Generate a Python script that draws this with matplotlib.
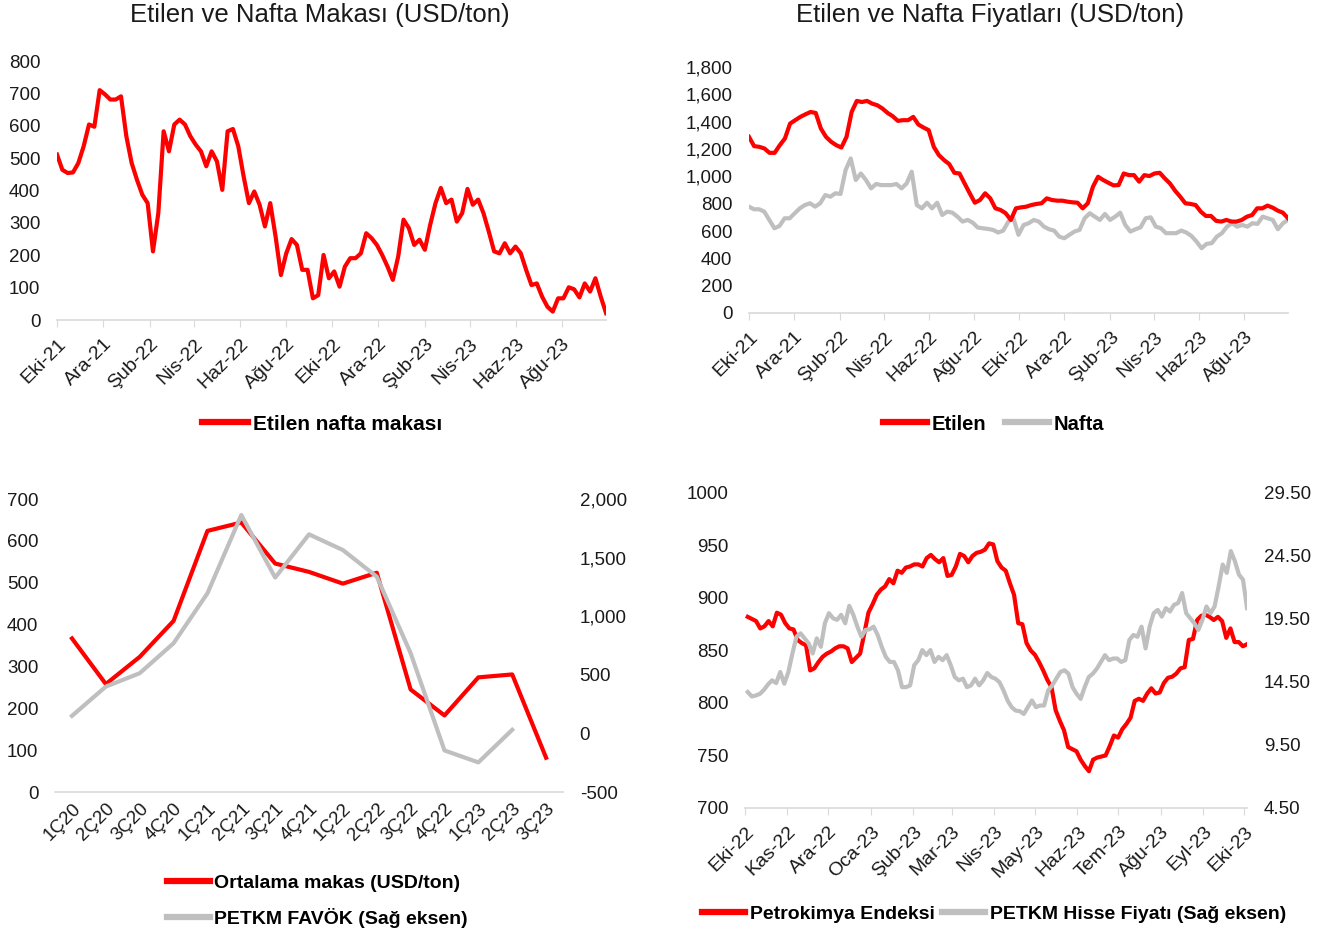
import pandas as pd
import matplotlib
matplotlib.use('Agg')
import matplotlib.pyplot as plt
import matplotlib.dates as mdates
from matplotlib.ticker import FuncFormatter, MultipleLocator, FixedLocator
from matplotlib.lines import Line2D

plt.rcParams['font.family'] = ['Liberation Sans', 'DejaVu Sans']

AYLAR = ['Oca', 'Şub', 'Mar', 'Nis', 'May', 'Haz', 'Tem', 'Ağu', 'Eyl', 'Eki', 'Kas', 'Ara']
KIRMIZI = '#FF0000'
GRI = '#BFBFBF'
EKSEN = '#D9D9D9'

# haftalik etilen-nafta makasi (USD/ton), Eki-21 .. Eyl-23
makas = [511, 464, 454, 456, 485, 537, 604, 597, 710, 697, 681, 681, 691, 568, 485, 433,
         387, 361, 212, 330, 583, 521, 604, 619, 604, 568, 542, 521, 475, 521, 490, 402,
         583, 590, 537, 444, 361, 397, 356, 289, 361, 258, 139, 206, 250, 232, 155, 155,
         67, 77, 201, 129, 150, 103, 165, 191, 191, 206, 268, 253, 232, 201, 165, 124,
         196, 310, 284, 232, 248, 217, 294, 361, 408, 361, 372, 304, 330, 405, 356, 372,
         330, 273, 212, 206, 237, 206, 227, 206, 155, 108, 113, 72, 41, 26, 67, 67,
         101, 95, 70, 113, 88, 129, 72, 21]

# haftalik fiyatlar (USD/ton)
etilen = [1289, 1221, 1216, 1204, 1172, 1172, 1228, 1277, 1386, 1411, 1435, 1454, 1471, 1464,
          1350, 1289, 1253, 1228, 1211, 1289, 1471, 1552, 1544, 1552, 1532, 1520, 1496, 1464,
          1440, 1406, 1411, 1411, 1435, 1379, 1357, 1338, 1216, 1155, 1119, 1090, 1026, 1021,
          948, 876, 807, 827, 876, 839, 766, 754, 730, 681, 766, 773, 778, 790, 798, 803,
          839, 827, 822, 822, 815, 810, 807, 766, 803, 924, 997, 973, 953, 934, 936, 1021,
          1009, 1009, 961, 1009, 1002, 1021, 1026, 985, 948, 895, 851, 803, 798, 790, 742,
          710, 710, 674, 669, 681, 669, 669, 681, 705, 717, 766, 766, 786, 771, 749, 734, 693]
nafta = [778, 759, 759, 742, 681, 620, 637, 693, 693, 730, 766, 790, 803, 778, 803, 863,
         851, 876, 871, 1046, 1131, 973, 1021, 973, 912, 944, 936, 936, 936, 944, 912, 948,
         1034, 790, 766, 807, 766, 807, 717, 742, 734, 705, 669, 681, 661, 625, 620, 615,
         608, 589, 603, 669, 693, 572, 644, 657, 681, 669, 632, 613, 603, 559, 547, 572,
         596, 608, 693, 730, 705, 681, 725, 681, 705, 734, 644, 596, 613, 627, 693, 700,
         632, 620, 584, 584, 584, 603, 589, 564, 523, 474, 506, 511, 559, 584, 632, 657,
         632, 644, 632, 657, 652, 705, 693, 681, 613, 657, 681]

# ceyreklik veriler
ceyrekler = ['1Ç20', '2Ç20', '3Ç20', '4Ç20', '1Ç21', '2Ç21', '3Ç21', '4Ç21',
             '1Ç22', '2Ç22', '3Ç22', '4Ç22', '1Ç23', '2Ç23', '3Ç23']
ortalama_makas = [367, 258, 323, 409, 624, 644, 546, 526, 498, 524, 245, 183, 274, 281, 82]
favok = [150, 400, 514, 770, 1196, 1864, 1330, 1699, 1565, 1338, 685, -145, -247, 31]

# gunluk endeks ve hisse, Eki-22 .. Eki-23
petrokimya = [882, 880, 878, 871, 873, 878, 873, 886, 884, 876, 871, 870, 860, 857, 855, 831,
              833, 839, 844, 847, 849, 852, 854, 854, 852, 839, 843, 847, 866, 886, 894, 903,
              908, 911, 918, 914, 926, 924, 929, 930, 932, 932, 930, 938, 941, 937, 934, 938,
              921, 922, 930, 942, 940, 934, 940, 943, 944, 946, 952, 951, 935, 929, 926, 914,
              903, 876, 875, 857, 850, 846, 839, 831, 822, 815, 793, 783, 774, 758, 756, 754,
              746, 740, 735, 746, 748, 749, 750, 759, 769, 767, 775, 780, 786, 802, 804, 802,
              809, 814, 809, 810, 819, 824, 825, 828, 833, 834, 860, 861, 879, 883, 884, 882,
              879, 882, 878, 862, 871, 858, 858, 854, 856]
petkm = [13.70, 13.35, 13.43, 13.56, 13.88, 14.31, 14.63, 14.41, 15.29, 14.36, 15.29, 16.76,
         18.09, 18.36, 17.96, 17.56, 16.76, 17.96, 17.29, 19.16, 19.96, 19.56, 19.43, 19.83,
         19.16, 20.54, 19.83, 18.89, 18.09, 18.63, 18.68, 18.89, 18.23, 17.29, 16.49, 16.09,
         16.09, 15.43, 14.09, 14.09, 14.23, 15.83, 16.23, 17.03, 16.63, 17.03, 16.09, 16.49,
         16.23, 16.63, 15.83, 14.89, 14.63, 14.76, 14.09, 14.23, 14.76, 14.23, 14.63, 15.21,
         14.89, 14.76, 14.49, 13.83, 13.03, 12.50, 12.23, 12.18, 11.96, 12.50, 13.03, 12.50,
         12.63, 12.63, 13.83, 14.23, 14.76, 15.29, 15.43, 15.16, 14.09, 13.56, 13.16, 14.09,
         14.89, 15.16, 15.56, 16.09, 16.63, 16.23, 16.36, 16.36, 16.09, 16.23, 17.83, 18.23,
         18.09, 18.89, 17.16, 18.89, 19.96, 20.22, 19.69, 20.36, 20.09, 20.62, 20.76, 21.56,
         19.96, 19.56, 19.16, 18.63, 19.43, 20.49, 19.96, 20.49, 22.09, 23.82, 23.16, 24.89,
         24.09, 23.02, 22.62, 20.36]
petkm_ticks = [4.5, 9.5, 14.5, 19.5, 24.5, 29.5]

makas_tarih = pd.date_range('2021-10-01', '2023-09-29', periods=len(makas))
etilen_tarih = pd.date_range('2021-10-01', '2023-09-29', periods=len(etilen))
nafta_tarih = pd.date_range('2021-10-01', '2023-09-29', periods=len(nafta))
petro_tarih = pd.date_range('2022-10-03', '2023-10-03', periods=len(petrokimya))
petkm_tarih = pd.date_range('2022-10-03', '2023-10-03', periods=len(petkm))

YAZI = '#1a1a1a'


def ay_etiketi(x, pos):
    d = mdates.num2date(x)
    return f"{AYLAR[d.month - 1]}-{d:%y}"


def sade_eksen(ax, ticks=True, xsize=14):
    for s in ['top', 'right', 'left']:
        ax.spines[s].set_visible(False)
    ax.spines['bottom'].set_color(EKSEN)
    ax.spines['bottom'].set_linewidth(1.2)
    ax.tick_params(axis='y', length=0, labelsize=13.5, pad=12, colors=YAZI)
    ax.tick_params(axis='x', length=5 if ticks else 0, color=EKSEN, labelsize=xsize,
                   pad=6, labelcolor=YAZI)
    for lbl in ax.get_xticklabels():
        lbl.set_rotation(45)
        lbl.set_ha('right')
        lbl.set_rotation_mode('anchor')


def sag_eksen(ax):
    for s in ax.spines.values():
        s.set_visible(False)
    ax.tick_params(axis='y', length=0, labelsize=13.5, pad=12, colors=YAZI)


def tarih_ekseni(ax, aylar):
    ax.xaxis.set_major_locator(mdates.MonthLocator(bymonth=aylar))
    ax.xaxis.set_major_formatter(FuncFormatter(ay_etiketi))


def lejant(ax, etiketler, renkler, x, y, boyut, **kw):
    tutamaclar = [Line2D([], [], color=r, lw=4.5) for r in renkler]
    return ax.legend(tutamaclar, etiketler, loc='center', bbox_to_anchor=(x, y),
                     bbox_transform=fig.transFigure, frameon=False, handlelength=2.2,
                     handletextpad=0.25, prop={'weight': 'bold', 'size': boyut}, **kw)


fig = plt.figure(figsize=(13.17, 9.36), dpi=100)

# sol ust: makas
ax1 = fig.add_axes([0.0433, 0.6581, 0.4169, 0.2767])
ax1.plot(makas_tarih, makas, color=KIRMIZI, lw=3)
ax1.set_ylim(0, 800)
ax1.yaxis.set_major_locator(MultipleLocator(100))
ax1.set_xlim(makas_tarih[0], makas_tarih[-1])
tarih_ekseni(ax1, [10, 12, 2, 4, 6, 8])
sade_eksen(ax1)
fig.text(0.2426, 0.984, 'Etilen ve Nafta Makası (USD/ton)', ha='center', va='center',
         fontsize=18.5, color=YAZI)
lejant(ax1, ['Etilen nafta makası'], [KIRMIZI], 0.2449, 0.547, 15)

# sag ust: fiyatlar
ax2 = fig.add_axes([0.5687, 0.6656, 0.4093, 0.2628])
ax2.plot(nafta_tarih, nafta, color=GRI, lw=3)
ax2.plot(etilen_tarih, etilen, color=KIRMIZI, lw=3)
ax2.set_ylim(0, 1800)
ax2.yaxis.set_major_locator(MultipleLocator(200))
ax2.yaxis.set_major_formatter(FuncFormatter(lambda v, p: f"{v:,.0f}"))
ax2.set_xlim(etilen_tarih[0], etilen_tarih[-1])
tarih_ekseni(ax2, [10, 12, 2, 4, 6, 8])
sade_eksen(ax2)
fig.text(0.752, 0.984, 'Etilen ve Nafta Fiyatları (USD/ton)', ha='center', va='center',
         fontsize=18.5, color=YAZI)
lejant(ax2, ['Etilen', 'Nafta'], [KIRMIZI, GRI], 0.7544, 0.547, 14.5,
       ncol=2, columnspacing=0.9)

# sol alt: ceyreklik makas ve favok
ax3 = fig.add_axes([0.0418, 0.1538, 0.3857, 0.3130])
x = list(range(len(ceyrekler)))
ax3.plot(x, ortalama_makas, color=KIRMIZI, lw=3)
ax3.set_ylim(0, 700)
ax3.yaxis.set_major_locator(MultipleLocator(100))
ax3.set_xlim(-0.5, len(ceyrekler) - 0.5)
ax3.set_xticks(x)
ax3.set_xticklabels(ceyrekler)
sade_eksen(ax3, ticks=False, xsize=13.5)
ax3b = ax3.twinx()
ax3b.plot(x[:len(favok)], favok, color=GRI, lw=3)
ax3b.set_ylim(-500, 2000)
ax3b.yaxis.set_major_locator(MultipleLocator(500))
ax3b.yaxis.set_major_formatter(FuncFormatter(lambda v, p: f"{v:,.0f}"))
sag_eksen(ax3b)
lejant(ax3, ['Ortalama makas (USD/ton)', 'PETKM FAVÖK (Sağ eksen)'], [KIRMIZI, GRI],
       0.241, 0.0374, 14, ncol=1, labelspacing=0.8)

# sag alt: endeks ve hisse
ax4 = fig.add_axes([0.5657, 0.1368, 0.3812, 0.3365])
ax4.plot(petro_tarih, petrokimya, color=KIRMIZI, lw=3)
ax4.set_ylim(700, 1000)
ax4.yaxis.set_major_locator(MultipleLocator(50))
ax4.set_xlim(petro_tarih[0] - pd.Timedelta(days=2), petro_tarih[-1])
tarih_ekseni(ax4, list(range(1, 13)))
sade_eksen(ax4)
ax4b = ax4.twinx()
ax4b.plot(petkm_tarih, petkm, color=GRI, lw=3)
ax4b.set_ylim(petkm_ticks[0], petkm_ticks[-1])
ax4b.yaxis.set_major_locator(FixedLocator(petkm_ticks))
ax4b.yaxis.set_major_formatter(FuncFormatter(lambda v, p: f"{v:.2f}"))
sag_eksen(ax4b)
lejant(ax4, ['Petrokimya Endeksi', 'PETKM Hisse Fiyatı (Sağ eksen)'], [KIRMIZI, GRI],
       0.7548, 0.0235, 14, ncol=2, columnspacing=0.4)

fig.savefig('out.png', dpi=100)
